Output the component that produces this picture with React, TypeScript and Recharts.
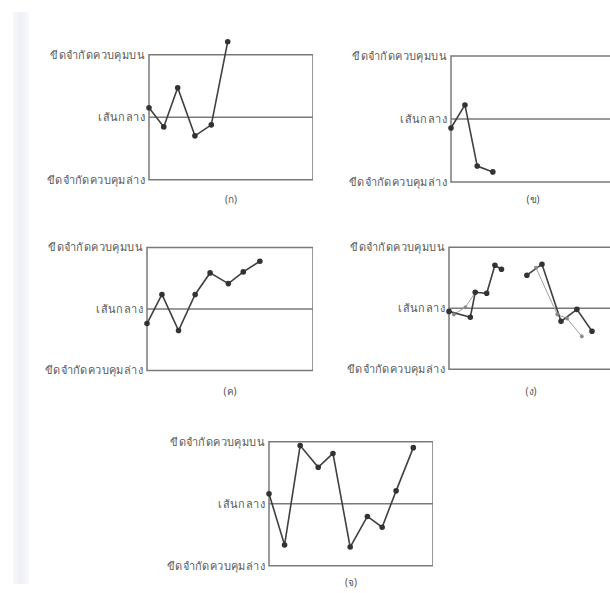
import { LineChart, Line, XAxis, YAxis, ReferenceArea, ReferenceLine } from "recharts";

// Thai control-limit labels, shared by all five charts
const limitTicks = [-3, 0, 3];
const limitLabels: Record<number, string> = {
  3: "ขีดจำกัดควบคุมบน",
  0: "เส้นกลาง",
  [-3]: "ขีดจำกัดควบคุมล่าง",
};

// (ก) one point beyond the upper limit
const seriesA = [
  { x: 0, y: 0.46 }, { x: 0.9, y: -0.46 }, { x: 1.75, y: 1.42 },
  { x: 2.8, y: -0.89 }, { x: 3.8, y: -0.36 }, { x: 4.8, y: 3.63 },
];
// (ข) drop toward the lower limit
const seriesB = [
  { x: 0, y: -0.43 }, { x: 0.85, y: 0.67 }, { x: 1.6, y: -2.24 }, { x: 2.55, y: -2.52 },
];
// (ค) upward run
const seriesC = [
  { x: 0, y: -0.71 }, { x: 0.9, y: 0.71 }, { x: 1.9, y: -1.05 }, { x: 2.9, y: 0.71 },
  { x: 3.8, y: 1.76 }, { x: 4.9, y: 1.24 }, { x: 5.8, y: 1.81 }, { x: 6.8, y: 2.33 },
];
// (ง) two overlapping traces, drawn twice in the scan
const seriesD1 = [
  { x: 0, y: -0.15 }, { x: 1.3, y: -0.44 }, { x: 1.6, y: 0.79 }, { x: 2.3, y: 0.74 },
  { x: 2.8, y: 2.12 }, { x: 3.2, y: 1.92 },
];
const seriesD1b = [{ x: 0.3, y: -0.3 }, { x: 1.0, y: 0.05 }, { x: 1.6, y: 0.79 }];
const seriesD2 = [
  { x: 4.75, y: 1.63 }, { x: 5.67, y: 2.17 }, { x: 6.83, y: -0.64 },
  { x: 7.8, y: -0.05 }, { x: 8.72, y: -1.13 },
];
const seriesD2b = [{ x: 5.3, y: 2.0 }, { x: 6.6, y: -0.3 }, { x: 7.2, y: -0.5 }, { x: 8.1, y: -1.38 }];
// (จ) swings between the limits
const seriesE = [
  { x: 0, y: 0.48 }, { x: 0.95, y: -2.0 }, { x: 1.9, y: 2.81 }, { x: 3.0, y: 1.76 },
  { x: 3.9, y: 2.43 }, { x: 4.95, y: -2.1 }, { x: 6.0, y: -0.62 }, { x: 6.9, y: -1.14 },
  { x: 7.75, y: 0.62 }, { x: 8.8, y: 2.71 },
];

type Pt = { x: number; y: number };
type Box = { left: number; right: number; top: number; bottom: number };

const AXIS_W = 124;
const FONT = "Noto Sans, DejaVu Sans, sans-serif";

function ControlChart({ box, series, faint = [], caption, captionY }: {
  box: Box; series: Pt[][]; faint?: Pt[][]; caption: string; captionY: number;
}) {
  const boxH = box.bottom - box.top;
  const plotH = (boxH * 8) / 6;
  const plotW = box.right - box.left;
  return (
    <>
      <div style={{ position: "absolute", left: box.left - AXIS_W, top: box.top - boxH / 6 }}>
        <LineChart width={AXIS_W + plotW} height={plotH} margin={{ top: 0, right: 0, bottom: 0, left: 0 }}>
          <XAxis type="number" dataKey="x" domain={[0, 10]} hide />
          <YAxis
            type="number" domain={[-4, 4]} ticks={limitTicks} width={AXIS_W}
            axisLine={false} tickLine={false} tickSize={0} tickMargin={4}
            tickFormatter={(v: number) => limitLabels[v]}
            tick={{ fontSize: 11, fill: "#5a5a5a", fontFamily: FONT, letterSpacing: 0.4 }}
          />
          <ReferenceArea x1={0} x2={10} y1={-3} y2={3} fill="none" stroke="#7a7a7a" strokeWidth={1.5} fillOpacity={0} />
          <ReferenceLine y={0} stroke="#7a7a7a" strokeWidth={1.5} />
          {faint.map((d, i) => (
            <Line key={"f" + i} data={d} dataKey="y" stroke="#a0a0a0" strokeWidth={1}
              dot={{ r: 1.5, fill: "#888", stroke: "#888" }} isAnimationActive={false} />
          ))}
          {series.map((d, i) => (
            <Line key={"s" + i} data={d} dataKey="y" stroke="#404040" strokeWidth={1.6}
              dot={{ r: 2, fill: "#333", stroke: "#333" }} isAnimationActive={false} />
          ))}
        </LineChart>
      </div>
      <div style={{
        position: "absolute", left: (box.left + box.right) / 2 - 30, width: 60, top: captionY - 8,
        textAlign: "center", fontSize: 10, color: "#555", fontFamily: FONT,
      }}>{caption}</div>
    </>
  );
}

export default function App() {
  return (
    <div style={{ position: "relative", width: 610, height: 593, overflow: "hidden", background: "#fff" }}>
      <style>{"body{margin:0}"}</style>
      <div style={{
        position: "absolute", left: 13, top: 12, width: 16, height: 572,
        background: "linear-gradient(to right, #f7f8fb, #eef0f5 50%, #f8f9fb)",
      }} />
      <ControlChart box={{ left: 149, right: 313, top: 55, bottom: 180 }} series={[seriesA]} caption="(ก)" captionY={200} />
      <ControlChart box={{ left: 451, right: 615, top: 56, bottom: 182 }} series={[seriesB]} caption="(ข)" captionY={200} />
      <ControlChart box={{ left: 147, right: 313, top: 247, bottom: 370 }} series={[seriesC]} caption="(ค)" captionY={392} />
      <ControlChart box={{ left: 449, right: 613, top: 247, bottom: 369 }} series={[seriesD1, seriesD2]}
        faint={[seriesD1b, seriesD2b]} caption="(ง)" captionY={392} />
      <ControlChart box={{ left: 269, right: 433, top: 442, bottom: 566 }} series={[seriesE]} caption="(จ)" captionY={583} />
    </div>
  );
}
